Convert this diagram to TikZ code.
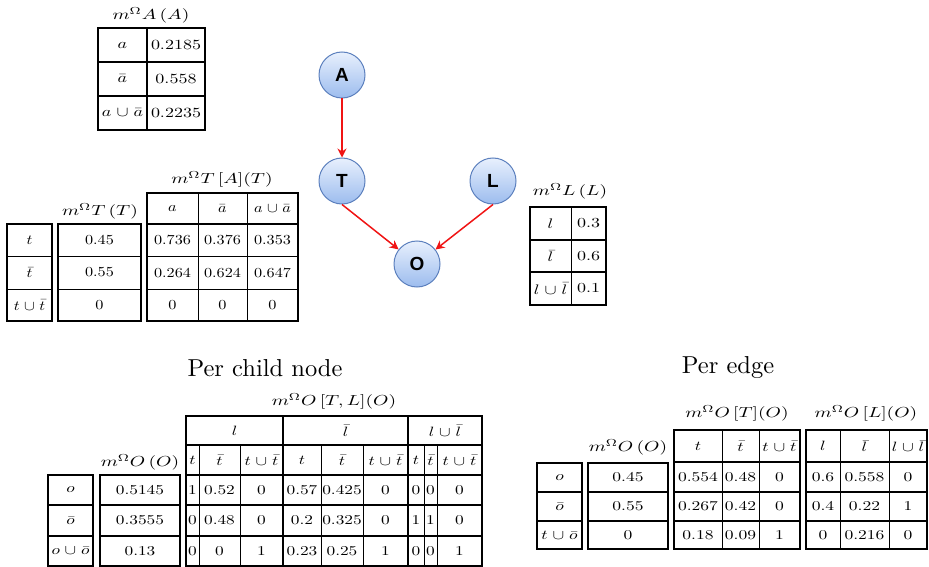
\documentclass[tikz,border=0pt]{standalone}
\usepackage{fontspec}
\usepackage{graphicx}
\usetikzlibrary{arrows.meta}
\newfontfamily\graphfont{Liberation Sans}

\definecolor{gtop}{RGB}{232,240,253}
\definecolor{gbot}{RGB}{156,188,238}
\definecolor{gborder}{RGB}{92,128,190}
\definecolor{ered}{RGB}{240,20,20}

% cell text scaling (horizontal / vertical), reset per table
\newcommand\cx{1.75}
\newcommand\cy{1.3}
\newcommand\tc[1]{\scalebox{\cx}[\cy]{#1}}
\newcommand\ttext[1]{\scalebox{1.95}[1.45]{#1}}
\newcommand\un{\mskip1mu\cup\mskip1mu}

\tikzset{
  outer/.style={line width=2.6pt},
  rowline/.style={line width=1.7pt},
  colline/.style={line width=1pt},
  grpline/.style={line width=2.2pt},
  every node/.style={inner sep=0pt},
  gnode/.style={circle, draw=gborder, line width=1pt, minimum size=46pt,
    top color=gtop, bottom color=gbot,
    font=\graphfont\bfseries\fontsize{19}{19}\selectfont},
  edge/.style={draw=ered, line width=1.5pt,
    -{Stealth[length=9pt,width=9pt,inset=3pt]}},
}

\begin{document}
\begin{tikzpicture}[x=1pt,y=-1pt]
\useasboundingbox (0,0) rectangle (929,567);

% ---------- m(A)
\begin{scope}
\def\cx{1.8}\def\cy{1.4}
\node (tA) at (151,15) {\ttext{$m^{\Omega}A\,(A)$}};
\foreach \Y/\La/\Va [count=\r] in {45/$a$/0.2185, 79/$\bar{a}$/0.558, 113/$a\un\bar{a}$/0.2235}
  {\node (A-\r-1) at (122.5,\Y) {\tc{\La}};
   \node (A-\r-2) at (176,\Y) {\tc{\Va}};}
\draw[rowline] (98,62) -- (205,62) (98,96) -- (205,96);
\draw[outer] (147,28) -- (147,130);
\draw[outer] (98,28) rectangle (205,130);
\end{scope}

% ---------- m(T) and m(T|A)
\begin{scope}
\def\cx{1.62}\def\cy{1.38}
\node (tT) at (100,211) {\ttext{$m^{\Omega}T\,(T)$}};
\node (tTA) at (222,179) {\ttext{$m^{\Omega}T\,[A](T)$}};
\foreach \X/\H [count=\c] in {172.5/$a$, 222.5/$\bar{a}$, 272.5/$a\un\bar{a}$}
  {\node (TA-0-\c) at (\X,209) {\tc{\H}};}
\foreach \Y/\La/\Ma/\Pa/\Qa/\Sa [count=\r] in
  {240/$t$/0.45/0.736/0.376/0.353, 272.5/$\bar{t}$/0.55/0.264/0.624/0.647,
   305/$t\un\bar{t}$/0/0/0/0}
  {\node (TL-\r) at (29.5,\Y) {\tc{\La}};
   \node (TM-\r) at (99.5,\Y) {\tc{\Ma}};
   \node (TA-\r-1) at (172.5,\Y) {\tc{\Pa}};
   \node (TA-\r-2) at (222.5,\Y) {\tc{\Qa}};
   \node (TA-\r-3) at (272.5,\Y) {\tc{\Sa}};}
\draw[colline] (7,256) -- (52,256) (7,289) -- (52,289);
\draw[outer] (7,224) rectangle (52,321);
\draw[colline] (58,256) -- (141,256) (58,289) -- (141,289);
\draw[outer] (58,224) rectangle (141,321);
\draw[rowline] (147,224) -- (298,224);
\draw[colline] (147,256) -- (298,256) (147,289) -- (298,289);
\draw[colline] (198,193) -- (198,321) (247,193) -- (247,321);
\draw[outer] (147,193) rectangle (298,321);
\end{scope}

% ---------- network
\node[gnode] (A) at (342,75) {A};
\node[gnode] (T) at (342,181) {T};
\node[gnode] (L) at (493,181) {L};
\node[gnode] (O) at (417,264) {O};
\draw[edge] (A) -- (T);
\draw[edge] (T.south) -- (O);
\draw[edge] (L.south) -- (O);

% ---------- m(L)
\begin{scope}
\def\cx{1.8}\def\cy{1.38}
\node (tL) at (570,191) {\ttext{$m^{\Omega}L\,(L)$}};
\foreach \Y/\La/\Va [count=\r] in {223.5/$l$/0.3, 256/$\bar{l}$/0.6, 288.5/$l\un\bar{l}$/0.1}
  {\node (L-\r-1) at (550.5,\Y) {\tc{\La}};
   \node (L-\r-2) at (588.5,\Y) {\tc{\Va}};}
\draw[rowline] (530,240) -- (606,240) (530,272) -- (606,272);
\draw[colline] (571,207) -- (571,305);
\draw[outer] (530,207) rectangle (606,305);
\end{scope}

% ---------- per child node
\node (hc) at (265,368) {\scalebox{2.45}{Per child node}};
\begin{scope}
\def\cx{1.73}\def\cy{1.35}
\node (tO1) at (140,462) {\ttext{$m^{\Omega}O\,(O)$}};
\node (tOTL) at (334,401) {\ttext{$m^{\Omega}O\,[T,L](O)$}};
\node (B-h-1) at (234.5,430.5) {\tc{$l$}};
\node (B-h-2) at (345.5,430.5) {\tc{$\bar{l}$}};
\node (B-h-3) at (445,430.5) {\tc{$l\un\bar{l}$}};
\foreach \X/\H [count=\c] in {192.5/$t$, 219.5/$\bar{t}$, 261.5/$t\un\bar{t}$,
    302/$t$, 342/$\bar{t}$, 385.5/$t\un\bar{t}$, 416/$t$, 430.5/$\bar{t}$, 459.5/$t\un\bar{t}$}
  {\node (B-0-\c) at (\X,460) {\tc{\H}};}
\foreach \Y/\La/\Ma [count=\r] in {490/$o$/0.5145, 520.5/$\bar{o}$/0.3555, 551/$o\un\bar{o}$/0.13}
  {\node (BL-\r) at (70.5,\Y) {\tc{\La}};
   \node (BM-\r) at (140,\Y) {\tc{\Ma}};}
\foreach \X/\Va/\Vb/\Vc [count=\c] in {192.5/1/0/0, 219.5/0.52/0.48/0, 261.5/0/0/1,
    302/0.57/0.2/0.23, 342/0.425/0.325/0.25, 385.5/0/0/1, 416/0/1/0, 430.5/0/1/0, 459.5/0/0/1}
  {\node (B-1-\c) at (\X,490) {\tc{\Va}};
   \node (B-2-\c) at (\X,520.5) {\tc{\Vb}};
   \node (B-3-\c) at (\X,551) {\tc{\Vc}};}
\draw[rowline] (48,505) -- (93,505) (48,536) -- (93,536);
\draw[outer] (48,475) rectangle (93,566);
\draw[rowline] (100,505) -- (180,505) (100,536) -- (180,536);
\draw[outer] (100,475) rectangle (180,566);
\draw[rowline] (186,445) -- (482,445) (186,475) -- (482,475)
               (186,505) -- (482,505) (186,536) -- (482,536);
\draw[colline] (199,445) -- (199,566) (240,445) -- (240,566)
               (321,445) -- (321,566) (363,445) -- (363,566)
               (424,445) -- (424,566) (437,445) -- (437,566);
\draw[grpline] (283,416) -- (283,566) (408,416) -- (408,566);
\draw[outer] (186,416) rectangle (482,566);
\end{scope}

% ---------- per edge
\node (he) at (728,368) {\scalebox{2.45}{Per edge}};
\begin{scope}
\def\cx{1.75}\def\cy{1.35}
\node (tO2) at (628,447) {\ttext{$m^{\Omega}O\,(O)$}};
\node (tOT) at (737,413) {\ttext{$m^{\Omega}O\,[T](O)$}};
\node (tOL) at (866,413) {\ttext{$m^{\Omega}O\,[L](O)$}};
\foreach \X/\H [count=\c] in {698/$t$, 740.5/$\bar{t}$, 779.5/$t\un\bar{t}$,
    823/$l$, 864.5/$\bar{l}$, 908/$l\un\bar{l}$}
  {\node (E-0-\c) at (\X,446) {\tc{\H}};}
\foreach \Y/\La/\Ma [count=\r] in {477.5/$o$/0.45, 506.5/$\bar{o}$/0.55, 535/$t\un\bar{o}$/0}
  {\node (EL-\r) at (559.5,\Y) {\tc{\La}};
   \node (EM-\r) at (628,\Y) {\tc{\Ma}};}
\foreach \X/\Va/\Vb/\Vc [count=\c] in {698/0.554/0.267/0.18, 740.5/0.48/0.42/0.09,
    779.5/0/0/1, 823/0.6/0.4/0, 864.5/0.558/0.22/0.216, 908/0/1/0}
  {\node (E-1-\c) at (\X,477.5) {\tc{\Va}};
   \node (E-2-\c) at (\X,506.5) {\tc{\Vb}};
   \node (E-3-\c) at (\X,535) {\tc{\Vc}};}
\draw[rowline] (537,492) -- (582,492) (537,521) -- (582,521);
\draw[outer] (537,463) rectangle (582,549);
\draw[rowline] (588,492) -- (668,492) (588,521) -- (668,521);
\draw[outer] (588,463) rectangle (668,549);
\draw[rowline] (674,462) -- (800,462) (674,492) -- (800,492) (674,521) -- (800,521);
\draw[colline] (722,430) -- (722,549) (759,430) -- (759,549);
\draw[outer] (674,430) rectangle (800,549);
\draw[rowline] (806,462) -- (927,462) (806,492) -- (927,492) (806,521) -- (927,521);
\draw[colline] (840,430) -- (840,549) (889,430) -- (889,549);
\draw[outer] (806,430) rectangle (927,549);
\end{scope}
\end{tikzpicture}
\end{document}
